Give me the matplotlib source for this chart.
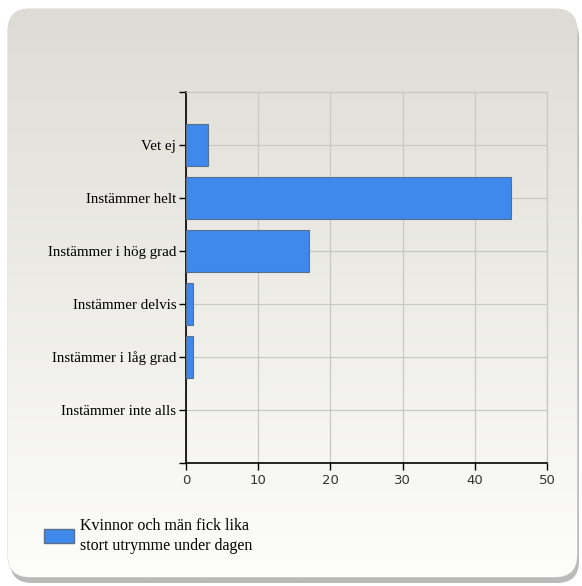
import numpy as np
import matplotlib.pyplot as plt
from matplotlib.patches import FancyBboxPatch, Rectangle

categories = ['Vet ej', 'Instämmer helt', 'Instämmer i hög grad',
              'Instämmer delvis', 'Instämmer i låg grad', 'Instämmer inte alls']
values = [3, 45, 17, 1, 1, 0]
series_name = 'Kvinnor och män fick lika\nstort utrymme under dagen'
x_ticks = [0, 10, 20, 30, 40, 50]

W, H = 582, 586
fig = plt.figure(figsize=(W / 100, H / 100), dpi=100)
fig.patch.set_facecolor('white')

# background panel with gradient and shadow
bg = fig.add_axes([0, 0, 1, 1])
bg.set_xlim(0, W)
bg.set_ylim(H, 0)
bg.axis('off')
shadow = FancyBboxPatch((10, 16), 569, 567, boxstyle='round,pad=0,rounding_size=22',
                        facecolor='#8c8c8c', edgecolor='none', alpha=0.6)
bg.add_patch(shadow)
panel = FancyBboxPatch((8, 9), 569, 568, boxstyle='round,pad=0,rounding_size=22',
                       facecolor='none', edgecolor='#d8d8d2', lw=0.8)
bg.add_patch(panel)
grad = np.linspace(0, 1, 256).reshape(-1, 1)
c_top = np.array([0xdd, 0xdc, 0xd4]) / 255
c_bot = np.array([0xfd, 0xfd, 0xfb]) / 255
img = c_top + (c_bot - c_top) * grad[..., None]
im = bg.imshow(img, extent=[8, 577, 577, 9], aspect='auto', zorder=1)
im.set_clip_path(panel)

# chart
ax = fig.add_axes([186 / W, 1 - 463 / H, (547 - 186) / W, (463 - 92) / H])
ax.set_facecolor('none')
pos = np.arange(1, len(categories) + 1)
bars = ax.barh(pos, values, height=0.8, color='#3f88ec', edgecolor='#5a6f8a', lw=0.8, zorder=3)
for b, v in zip(bars, values):
    if v == 0:
        b.set_visible(False)
ax.set_ylim(7, 0)
ax.set_xlim(0, 50)
ax.set_yticks(pos)
ax.set_yticklabels(categories, family='Liberation Serif', fontsize=10.8)
ax.set_yticks([0, 7], minor=True)
ax.set_xticks(x_ticks)
ax.set_xticklabels([str(t) for t in x_ticks], family='DejaVu Sans', fontsize=9.5, color='#333333')
ax.tick_params(axis='both', which='both', direction='out', length=5, width=1, color='black')
ax.tick_params(axis='y', pad=2)
ax.tick_params(axis='x', pad=3)
ax.grid(True, color='#c9c9c4', lw=0.9, zorder=0)
for s in ['top', 'right']:
    ax.spines[s].set_color('#c9c9c4')
    ax.spines[s].set_linewidth(0.9)
for s in ['left', 'bottom']:
    ax.spines[s].set_color('black')
    ax.spines[s].set_linewidth(1.2)

# legend
bg.add_patch(Rectangle((44, 529), 30, 14, facecolor='#3f88ec', edgecolor='#5a6f8a', lw=1, zorder=3))
bg.text(80, 536, series_name, family='Liberation Serif', fontsize=11.5,
        va='center', ha='left', linespacing=1.25, zorder=3)

fig.savefig('out.png', dpi=100)
